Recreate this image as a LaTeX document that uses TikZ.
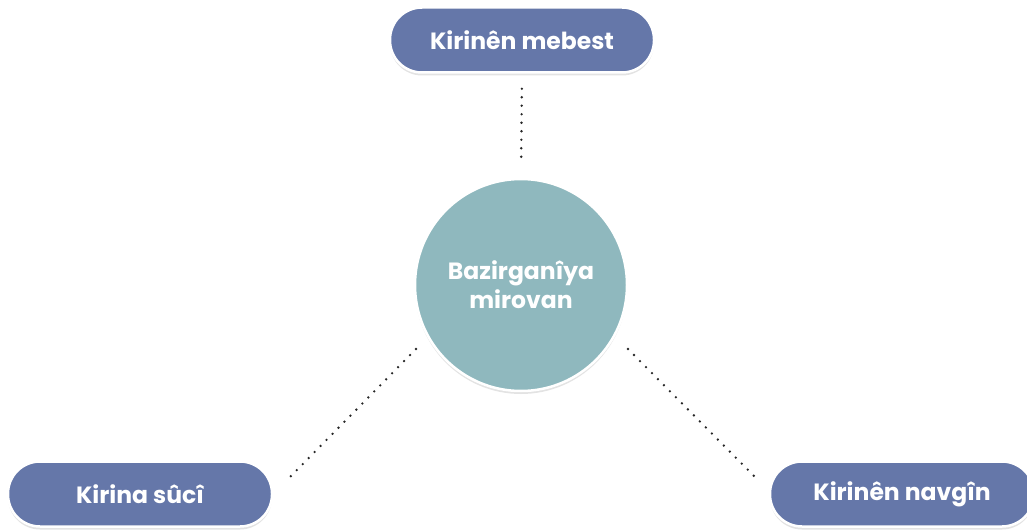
\documentclass[tikz,border=0pt]{standalone}
\usepackage{fontspec}
\setmainfont{Poppins}[UprightFont=* Bold, BoldFont=* Bold]
\usetikzlibrary{shadows}
\definecolor{pillblue}{HTML}{6577A9}
\definecolor{circteal}{HTML}{8FB8BE}
\begin{document}
\begin{tikzpicture}[x=1pt,y=-1pt,
  pill/.style={rectangle, rounded corners=32pt, fill=pillblue, draw=white, line width=2.5pt,
    minimum width=264pt, minimum height=65pt, text=white, font=\fontsize{23.5}{27}\selectfont,
    drop shadow={opacity=0.22, shadow xshift=0pt, shadow yshift=-3pt}},
  hub/.style={circle, fill=circteal, draw=white, line width=2.5pt, minimum size=212pt,
    text=white, align=center, font=\fontsize{23.5}{29}\selectfont,
    drop shadow={opacity=0.22, shadow xshift=0pt, shadow yshift=-3pt}},
  dotline/.style={line width=2.6pt, line cap=round, dash pattern=on 0pt off 8.5pt, black!85}]
\fill[white] (0,0) rectangle (1027,532);
\useasboundingbox (0,0) rectangle (1027,532);
\node[hub] (c) at (521,285) {Bazirganîya\\mirovan};
\node[pill] (t) at (522,40) {Kirinên mebest};
\node[pill] (l) at (140,494) {Kirina sûcî};
\node[pill] (r) at (902,494) {Kirinên navgîn};
\coordinate (l1) at (416,349);
\coordinate (l2) at (290,477);
\coordinate (r1) at (628,349);
\coordinate (r2) at (755,477);
\draw[dotline, shorten <=15pt, shorten >=18pt] (t.south) -- (c.north);
\draw[dotline] (l1) -- (l2);
\draw[dotline] (r1) -- (r2);
\end{tikzpicture}
\end{document}
